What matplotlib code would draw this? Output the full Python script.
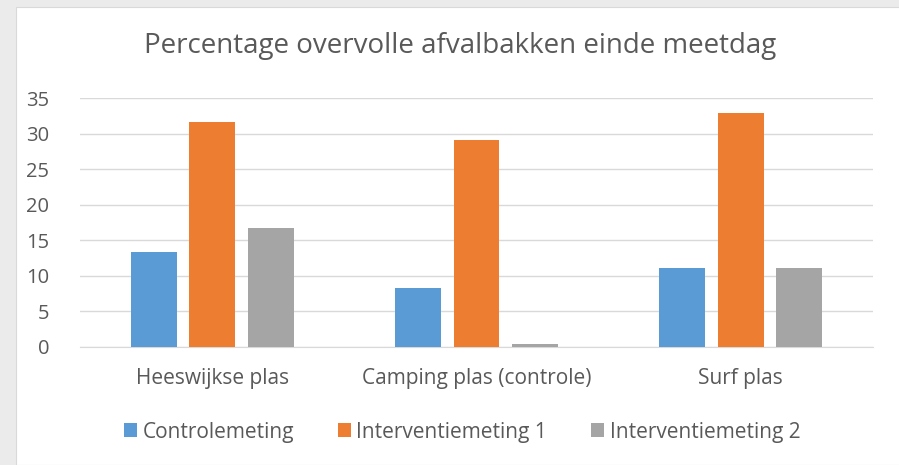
import matplotlib
matplotlib.use("Agg")
import matplotlib.pyplot as plt
import numpy as np
from matplotlib.patches import Rectangle

categories = ["Heeswijkse plas", "Camping plas (controle)", "Surf plas"]
series_names = ["Controlemeting", "Interventiemeting 1", "Interventiemeting 2"]
controle = [13.3, 8.3, 11.1]
interventie1 = [31.6, 29.1, 32.9]
interventie2 = [16.7, 0.4, 11.1]
colors = ["#5B9BD5", "#ED7D31", "#A5A5A5"]
yticks = [0, 5, 10, 15, 20, 25, 30, 35]

plt.rcParams['font.family'] = ['Open Sans', 'DejaVu Sans']
text_color = "#595959"

fig = plt.figure(figsize=(8.99, 4.65), dpi=100)
fig.patch.set_facecolor("#EBEBEB")
fig.patches.append(Rectangle((16/899, 0), 1, 1 - 7/465, transform=fig.transFigure,
                             facecolor="white", edgecolor="#D9D9D9", linewidth=0.8, zorder=-5))

ax = fig.add_axes([80/899, 1 - 347/465, (873-80)/899, (347-98)/465])
ax.set_facecolor("none")

x = np.arange(len(categories))
width = 0.174
step = 0.221
for i, (vals, name, c) in enumerate(zip([controle, interventie1, interventie2], series_names, colors)):
    ax.bar(x + (i - 1) * step, vals, width, color=c, label=name, zorder=3)

ax.set_xlim(-0.5, 2.5)
ax.set_ylim(0, 35)
ax.set_yticks(yticks)
ax.yaxis.grid(True, color="#D9D9D9", linewidth=1.0, zorder=0)
ax.set_axisbelow(True)
for s in ["top", "right", "left"]:
    ax.spines[s].set_visible(False)
ax.spines["bottom"].set_color("#D9D9D9")
ax.tick_params(axis="y", length=0, colors=text_color, labelsize=14.5, pad=22)
ax.tick_params(axis="x", length=0, colors=text_color, labelsize=15, pad=15)
ax.set_xticks(x)
ax.set_xticklabels(categories)

fig.text(460/899, 1 - 46/465, "Percentage overvolle afvalbakken einde meetdag",
         ha="center", va="center", fontsize=20, color=text_color)

leg = fig.legend(loc="center", bbox_to_anchor=(462/899, 1 - 432/465), ncol=3, frameon=False,
                 fontsize=15, labelcolor=text_color, handlelength=0.65, handleheight=0.65,
                 handletextpad=0.25, columnspacing=2.1)

fig.savefig("out.png", dpi=100, facecolor=fig.get_facecolor())
